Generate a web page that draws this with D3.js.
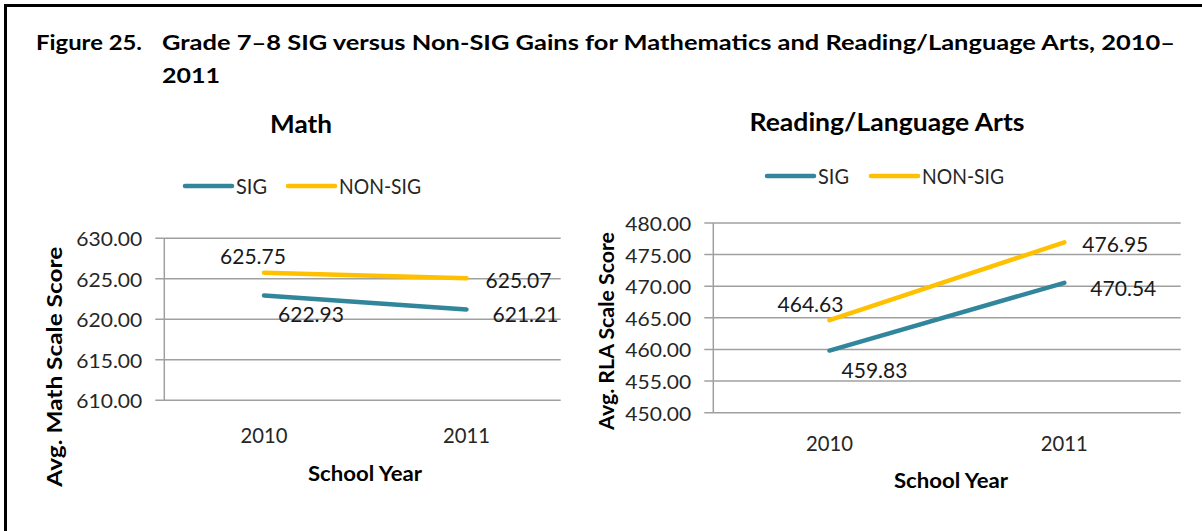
<!DOCTYPE html>
<html>
<head>
<meta charset="utf-8">
<script src="https://cdn.jsdelivr.net/npm/d3@7"></script>
<style>
  body { margin: 0; background: #fff; }
  svg { display: block; font-family: Lato, "Open Sans", sans-serif; }
</style>
</head>
<body>
<svg id="fig" width="1202" height="531"></svg>
<script>
// data
var years = ["2010", "2011"];
var series = ["SIG", "NON-SIG"];
var math_sig = [622.93, 621.21];
var math_nonsig = [625.75, 625.07];
var rla_sig = [459.83, 470.54];
var rla_nonsig = [464.63, 476.95];
var math_ticks = [610, 615, 620, 625, 630];
var rla_ticks = [450, 455, 460, 465, 470, 475, 480];

var colors = { "SIG": "#31869B", "NON-SIG": "#FFC000" };
var svg = d3.select("#fig");

// the source is a bit wider than Lato, so stretch text to the measured widths
function fit(sel, w) {
	return sel.attr("textLength", w).attr("lengthAdjust", "spacingAndGlyphs");
}

svg.append("rect").attr("width", 1202).attr("height", 531).attr("fill", "#fff");

// frame (top + left edge visible)
svg.append("path")
   .attr("d", "M5.5,531 L5.5,5.5 L1202,5.5")
   .attr("fill", "none")
   .attr("stroke", "#000")
   .attr("stroke-width", 3);

// figure caption
fit(svg.append("text")
   .attr("x", 36).attr("y", 50)
   .style("font-weight", "bold").style("font-size", "21px")
   .text("Figure 25."), 106);
fit(svg.append("text")
   .attr("x", 162).attr("y", 50)
   .style("font-weight", "bold").style("font-size", "21px")
   .text("Grade 7\u20138 SIG versus Non-SIG Gains for Mathematics and Reading/Language Arts, 2010\u2013"), 1013);
fit(svg.append("text")
   .attr("x", 162).attr("y", 83)
   .style("font-weight", "bold").style("font-size", "21px")
   .text("2011"), 58);

function draw_panel(p) {
	var g = svg.append("g");

	var x = d3.scalePoint().domain(years).range(p.xr);
	var y = d3.scaleLinear().domain(d3.extent(p.ticks)).range(p.yr);

	// gridlines with small tick stubs left of the axis
	g.append("g")
	 .selectAll("line")
	 .data(p.ticks)
	 .enter()
	 .append("line")
	 .attr("x1", p.axisX - 9)
	 .attr("x2", p.gridEnd)
	 .attr("y1", (d) => y(d))
	 .attr("y2", (d) => y(d))
	 .attr("stroke", "#A0A0A0")
	 .attr("stroke-width", 1.5);

	g.append("line")
	 .attr("x1", p.axisX).attr("x2", p.axisX)
	 .attr("y1", p.yr[1]).attr("y2", p.yr[0])
	 .attr("stroke", "#A0A0A0")
	 .attr("stroke-width", 1.5);

	fit(g.append("g")
	 .selectAll("text")
	 .data(p.ticks)
	 .enter()
	 .append("text")
	 .attr("x", p.axisX - 22)
	 .attr("y", (d) => y(d) + 8)
	 .attr("text-anchor", "end")
	 .style("font-size", "20px")
	 .style("fill", "#262626")
	 .text((d) => d3.format(".2f")(d)), 66);

	fit(g.append("g")
	 .selectAll("text")
	 .data(years)
	 .enter()
	 .append("text")
	 .attr("x", (d) => x(d))
	 .attr("y", p.yearY)
	 .attr("text-anchor", "middle")
	 .style("font-size", "21px")
	 .style("fill", "#262626")
	 .text((d) => d), 47);

	// axis titles
	fit(g.append("text")
	 .attr("x", p.xTitle[0]).attr("y", p.xTitle[1])
	 .attr("text-anchor", "middle")
	 .style("font-weight", "bold").style("font-size", "21.5px")
	 .text("School Year"), 114);
	fit(g.append("text")
	 .attr("transform", "translate(" + p.yTitle[0] + "," + p.yTitle[1] + ") rotate(-90)")
	 .attr("text-anchor", "middle")
	 .style("font-weight", "bold").style("font-size", "21.5px")
	 .text(p.yLabel), p.yTitle[2]);

	fit(g.append("text")
	 .attr("x", p.title[0]).attr("y", p.title[1])
	 .attr("text-anchor", "middle")
	 .style("font-weight", "bold").style("font-size", "25.5px")
	 .text(p.name), p.title[2]);

	// legend
	var leg = g.selectAll(".leg")
	 .data(series)
	 .enter().append("g")
	 .attr("class", "leg");
	leg.append("line")
	 .attr("x1", (d, i) => p.legX[i])
	 .attr("x2", (d, i) => p.legX[i] + 47)
	 .attr("y1", p.legY).attr("y2", p.legY)
	 .attr("stroke", (d) => colors[d])
	 .attr("stroke-width", 4.5)
	 .attr("stroke-linecap", "round");
	leg.append("text")
	 .attr("x", (d, i) => p.legX[i] + 51)
	 .attr("y", p.legY + 7.5)
	 .attr("textLength", (d) => d == "SIG" ? 31 : 82)
	 .attr("lengthAdjust", "spacingAndGlyphs")
	 .style("font-size", "21px")
	 .style("fill", "#262626")
	 .text((d) => d);

	// lines + data labels
	var sets = [{ key: "SIG", vals: p.sig }, { key: "NON-SIG", vals: p.nonsig }];
	var line = d3.line()
	 .x((d, i) => x(years[i]))
	 .y((d) => y(d));

	sets.forEach(function(s) {
		g.append("path")
		 .datum(s.vals)
		 .attr("d", line)
		 .attr("fill", "none")
		 .attr("stroke", colors[s.key])
		 .attr("stroke-width", 4.5)
		 .attr("stroke-linecap", "round");

		fit(g.append("g")
		 .selectAll("text")
		 .data(s.vals)
		 .enter()
		 .append("text")
		 .attr("x", (d, i) => x(years[i]) + p.lab[s.key][i][0])
		 .attr("y", (d, i) => y(d) + p.lab[s.key][i][1] + 7.5)
		 .attr("text-anchor", (d, i) => i == 0 ? "middle" : "start")
		 .style("font-size", "20.5px")
		 .style("fill", "#1a1a1a")
		 .text((d) => d3.format(".2f")(d)), 66);
	});
}

draw_panel({
	name: "Math", yLabel: "Avg. Math Scale Score",
	sig: math_sig, nonsig: math_nonsig, ticks: math_ticks,
	xr: [264, 466.5], yr: [400.3, 238.2],
	axisX: 164.3, gridEnd: 560.7, yearY: 442.5,
	xTitle: [365, 481], yTitle: [62.3, 366.7, 240], title: [301, 133, 62],
	legX: [185, 288], legY: 186,
	lab: { "SIG": [[47, 19], [26, 5]], "NON-SIG": [[-11, -16], [19, 2]] }
});

draw_panel({
	name: "Reading/Language Arts", yLabel: "Avg. RLA Scale Score",
	sig: rla_sig, nonsig: rla_nonsig, ticks: rla_ticks,
	xr: [829.5, 1064.3], yr: [412.7, 223],
	axisX: 713.3, gridEnd: 1180.7, yearY: 451,
	xTitle: [951, 488], yTitle: [614, 331, 198], title: [887, 131, 275],
	legX: [767, 871], legY: 176,
	lab: { "SIG": [[45, 20], [26, 6]], "NON-SIG": [[-19, -16], [18, 2]] }
});
</script>
</body>
</html>
